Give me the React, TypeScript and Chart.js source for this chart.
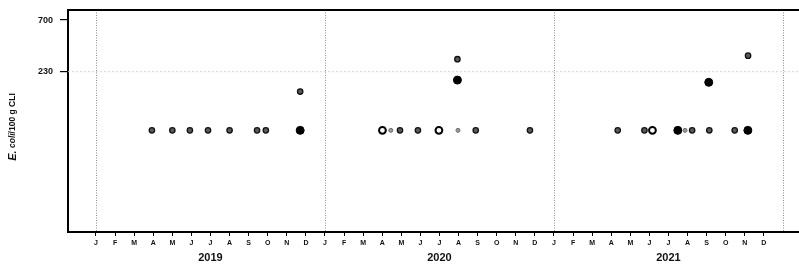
import React, { useEffect, useRef } from "react";
import { Chart, registerables } from "chart.js";

Chart.register(...registerables);

const monthLabels = ["J", "F", "M", "A", "M", "J", "J", "A", "S", "O", "N", "D"];
const yearLabels = ["2019", "2020", "2021"];
const yTickValues = [230, 700];

// x = months since Jan 2019
const greyMonths = [2.93, 4.0, 4.92, 5.87, 7.0, 8.44, 8.9, 10.7, 15.93, 16.87, 18.94, 19.9, 22.74, 27.34, 28.74, 31.24, 32.14, 33.47, 34.17];
const greyValues = [65, 65, 65, 65, 65, 65, 65, 150, 65, 65, 301, 65, 65, 65, 65, 65, 65, 65, 325];
const filledMonths = [10.7, 18.94, 30.49, 32.11, 34.16];
const filledValues = [65, 192, 65, 183, 65];
const openMonths = [15.01, 17.97, 29.16];
const openValues = [65, 65, 65];
const faintMonths = [15.45, 18.97, 30.87];
const faintValues = [65, 65, 65];

const pts = (xs: number[], ys: number[]) => xs.map((x, i) => ({ x, y: ys[i] }));

const FONT = "'Liberation Sans', Arial, sans-serif";

const decor = {
  id: "decor",
  beforeDatasetsDraw(chart: any) {
    const { ctx, chartArea, scales } = chart;
    const xs = scales.x;
    const ys = scales.y;
    ctx.save();
    ctx.strokeStyle = "#d4d4d4";
    ctx.lineWidth = 1;
    ctx.setLineDash([2, 2]);
    const y230 = ys.getPixelForValue(230);
    ctx.beginPath();
    ctx.moveTo(chartArea.left, y230);
    ctx.lineTo(chartArea.right, y230);
    ctx.stroke();
    ctx.strokeStyle = "#8a8f99";
    ctx.setLineDash([1, 1.5]);
    [0, 12, 24, 36].forEach((m) => {
      const x = Math.round(xs.getPixelForValue(m)) + 0.5;
      ctx.beginPath();
      ctx.moveTo(x, chartArea.top);
      ctx.lineTo(x, chartArea.bottom);
      ctx.stroke();
    });
    ctx.restore();
  },
  afterDraw(chart: any) {
    const { ctx, chartArea, scales } = chart;
    const xs = scales.x;
    ctx.save();
    ctx.strokeStyle = "#000";
    ctx.lineWidth = 2;
    ctx.setLineDash([]);
    ctx.beginPath();
    ctx.moveTo(chartArea.left - 1, chartArea.top);
    ctx.lineTo(chartArea.right, chartArea.top);
    ctx.stroke();
    ctx.fillStyle = "#111";
    ctx.font = `bold 11px ${FONT}`;
    ctx.textAlign = "center";
    ctx.textBaseline = "middle";
    yearLabels.forEach((yl, i) => {
      ctx.fillText(yl, xs.getPixelForValue(6 + 12 * i), 258);
    });
    const parts = [
      { t: "E.", f: `italic bold 11px ${FONT}` },
      { t: " coli", f: `italic bold 8.5px ${FONT}` },
      { t: "/100 g CLI", f: `bold 8.5px ${FONT}` },
    ];
    let total = 0;
    const widths = parts.map((p) => {
      ctx.font = p.f;
      const w = ctx.measureText(p.t).width;
      total += w;
      return w;
    });
    ctx.translate(13, 127);
    ctx.rotate(-Math.PI / 2);
    ctx.textAlign = "left";
    let cx = -total / 2;
    parts.forEach((p, i) => {
      ctx.font = p.f;
      ctx.fillText(p.t, cx, 0);
      cx += widths[i];
    });
    ctx.restore();
  },
};

export default function App() {
  const ref = useRef<HTMLCanvasElement | null>(null);
  useEffect(() => {
    if (!ref.current) return;
    const chart = new Chart(ref.current, {
      type: "scatter",
      data: {
        datasets: [
          {
            data: pts(faintMonths, faintValues),
            backgroundColor: "#9a9a9a",
            borderColor: "#6a6a6a",
            borderWidth: 1,
            pointRadius: 2,
          },
          {
            data: pts(greyMonths, greyValues),
            backgroundColor: "#5a5a5a",
            borderColor: "#111111",
            borderWidth: 1.3,
            pointRadius: 2.7,
          },
          {
            data: pts(openMonths, openValues),
            backgroundColor: "#ffffff",
            borderColor: "#000000",
            borderWidth: 2,
            pointRadius: 3.4,
          },
          {
            data: pts(filledMonths, filledValues),
            backgroundColor: "#000000",
            borderColor: "#000000",
            borderWidth: 1,
            pointRadius: 4,
          },
        ],
      },
      options: {
        responsive: false,
        animation: false,
        layout: { autoPadding: false, padding: { top: 10, right: 0, left: 0, bottom: 0 } },
        plugins: { legend: { display: false }, tooltip: { enabled: false } },
        scales: {
          x: {
            type: "linear",
            min: -1.467,
            max: 36.84,
            afterFit: (s: any) => {
              s.height = 35;
              s.paddingLeft = 0;
              s.paddingRight = 0;
            },
            afterBuildTicks: (s: any) => {
              const t = [];
              for (let i = 0; i < 36; i++) t.push({ value: i });
              s.ticks = t;
            },
            ticks: {
              autoSkip: false,
              maxRotation: 0,
              padding: 3,
              color: "#111",
              font: { family: FONT, size: 7, weight: "bold" },
              callback: (v: any) => monthLabels[(((Number(v) % 12) + 12) % 12)],
            },
            grid: { drawOnChartArea: false, drawTicks: true, tickLength: 4, color: "#000", lineWidth: 1 },
            border: { display: true, color: "#000", width: 2 },
          },
          y: {
            type: "logarithmic",
            min: 7.28,
            max: 869,
            afterFit: (s: any) => {
              s.width = 68;
              s.paddingTop = 0;
              s.paddingBottom = 0;
            },
            afterBuildTicks: (s: any) => {
              s.ticks = yTickValues.map((v) => ({ value: v }));
            },
            ticks: {
              padding: 7,
              color: "#111",
              font: { family: FONT, size: 9, weight: "bold" },
              callback: (v: any) => String(v),
            },
            grid: { drawOnChartArea: false, drawTicks: true, tickLength: 8, color: "#000", lineWidth: 1.2 },
            border: { display: true, color: "#000", width: 2 },
          },
        },
      },
      plugins: [decor],
    });
    return () => chart.destroy();
  }, []);
  return (
    <div style={{ position: "fixed", left: 0, top: 0, width: 799, height: 267, background: "#fff" }}>
      <canvas ref={ref} width={799} height={267} style={{ display: "block" }} />
    </div>
  );
}
